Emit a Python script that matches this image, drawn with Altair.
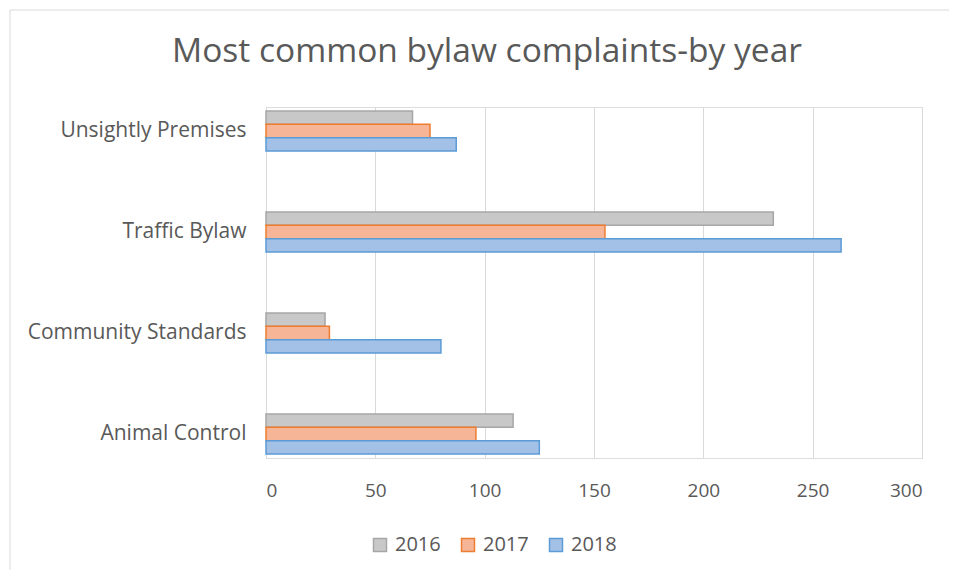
import altair as alt
import pandas as pd

categories = ["Unsightly Premises", "Traffic Bylaw", "Community Standards", "Animal Control"]
years = ["2016", "2017", "2018"]
v2016 = [67, 232, 27, 113]
v2017 = [75, 155, 29, 96]
v2018 = [87, 263, 80, 125]
x_ticks = [0, 50, 100, 150, 200, 250, 300]
title_text = "Most common bylaw complaints-by year"

fills = ["#c8c8c8", "#f6b596", "#a3c1e7"]
strokes = ["#a6a6a6", "#ed7d31", "#5b9bd5"]

rows = []
for yr, vals in zip(years, [v2016, v2017, v2018]):
    for c, v in zip(categories, vals):
        rows.append({"category": c, "year": yr, "value": v})
df = pd.DataFrame(rows)

FONT = "Open Sans"
TXT = "#595959"

leg = dict(title=None, orient="none", direction="horizontal",
           legendX=104, legendY=428, symbolType="square",
           symbolSize=169, symbolStrokeWidth=1.5,
           labelFontSize=20, labelColor=TXT, labelFont=FONT,
           columnPadding=17, labelOffset=5)

bars = alt.Chart(df).mark_bar(strokeWidth=1.5).encode(
    y=alt.Y("category:N", sort=categories, title=None,
            scale=alt.Scale(paddingInner=0.604, paddingOuter=0.04),
            axis=alt.Axis(ticks=False, domain=False, labelPadding=20, labelLimit=400,
                          labelFontSize=21, labelColor=TXT, labelFont=FONT)),
    yOffset=alt.YOffset("year:N", sort=years, scale=alt.Scale(paddingInner=0, paddingOuter=0)),
    x=alt.X("value:Q", title=None,
            scale=alt.Scale(domain=[0, 300], nice=False),
            axis=alt.Axis(values=x_ticks, ticks=False, domain=False, grid=True,
                          gridColor="#d9d9d9", gridWidth=1, labelPadding=23,
                          labelFontSize=19, labelColor=TXT, labelFont=FONT)),
    fill=alt.Fill("year:N", sort=years, scale=alt.Scale(domain=years, range=fills),
                  legend=alt.Legend(**leg)),
    stroke=alt.Stroke("year:N", sort=years, scale=alt.Scale(domain=years, range=strokes),
                      legend=alt.Legend(**leg)),
)

frame = alt.Chart(alt.Data(values=[{"a": 1}])).mark_rect(
    fillOpacity=0, stroke="#d9d9d9", strokeWidth=1
).encode(
    x=alt.value(-256), x2=alt.value(684), y=alt.value(-97), y2=alt.value(468)
)

title = alt.Chart(alt.Data(values=[{"t": title_text}])).mark_text(
    font=FONT, fontSize=33.5, color=TXT, align="center", baseline="middle"
).encode(
    text="t:N", x=alt.value(221), y=alt.value(-55)
)

chart = alt.layer(frame, title, bars).properties(
    width=656, height=351,
    autosize=alt.AutoSizeParams(type="none"),
    padding={"left": 258, "top": 99, "right": 27, "bottom": 112},
).configure_view(stroke=None).configure(background="white")

chart.save("out.html", embed_options={"renderer": "svg", "actions": False})
